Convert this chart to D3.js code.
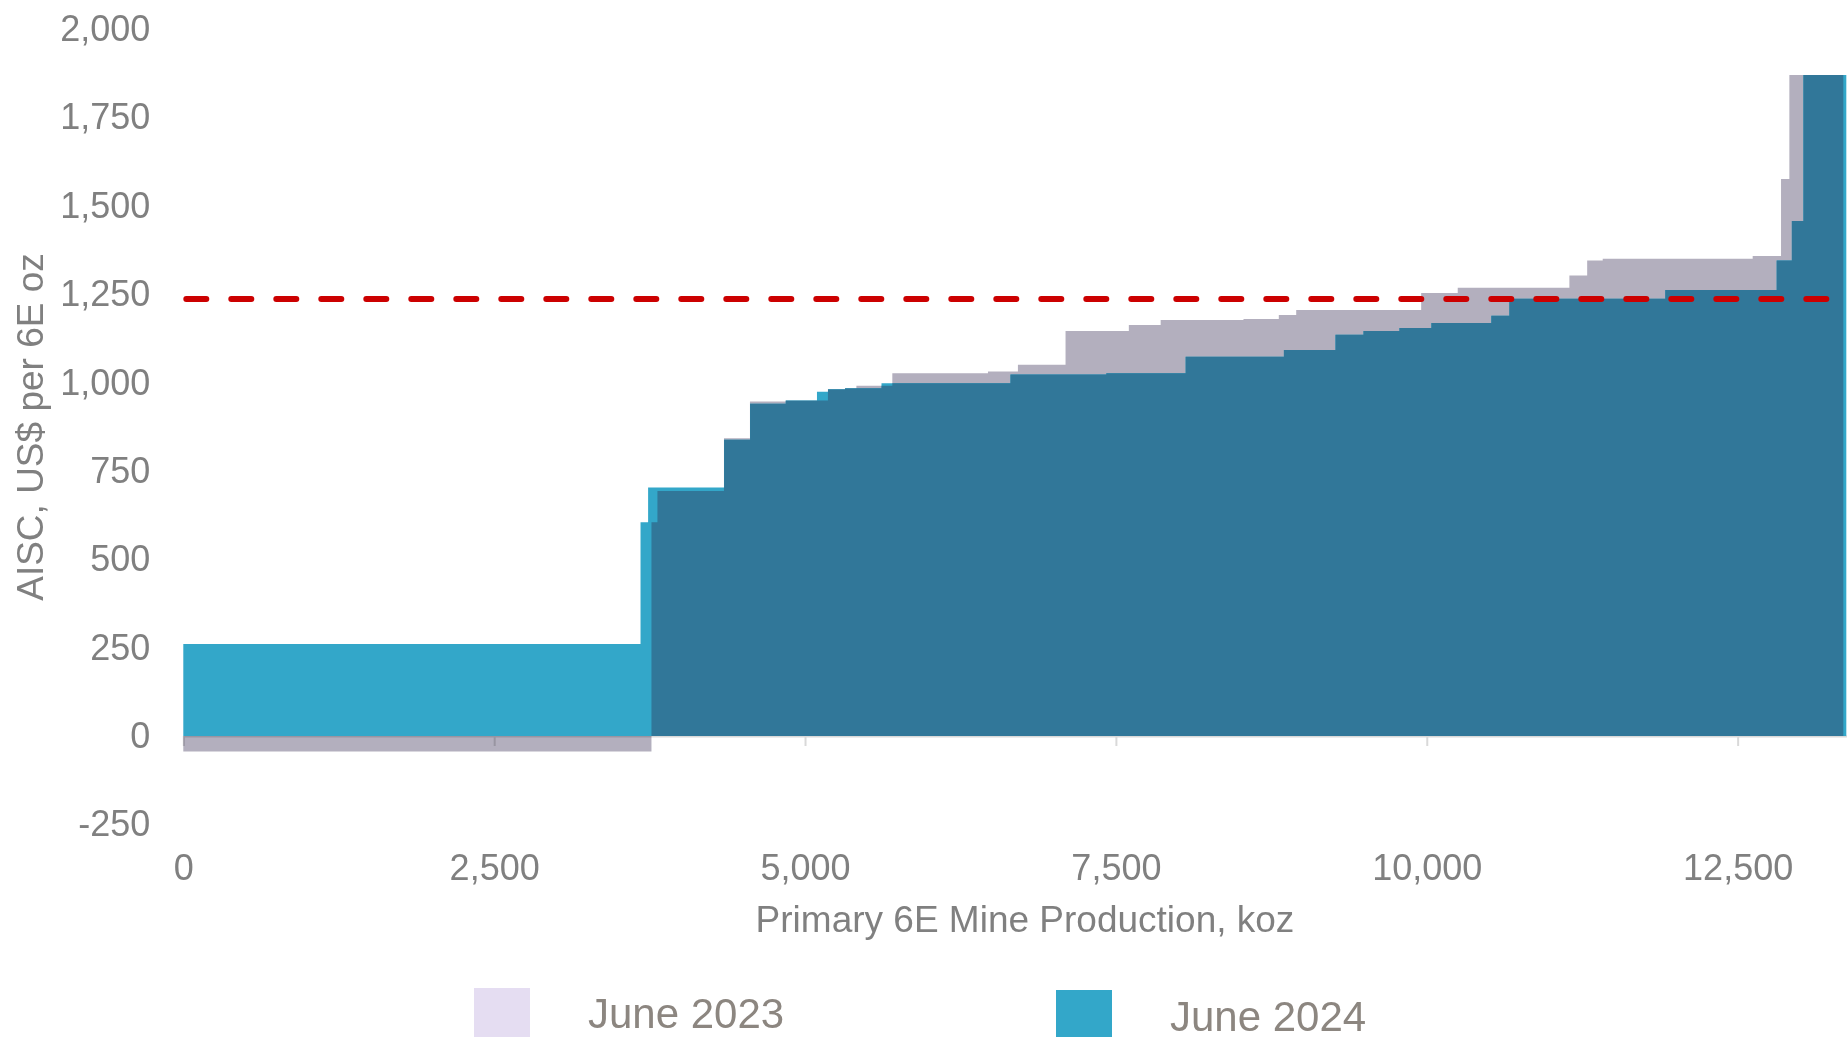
<!DOCTYPE html>
<html>
<head>
<meta charset="utf-8">
<script src="https://cdn.jsdelivr.net/npm/d3@7"></script>
<style>
  body { margin: 0; background: #fff; }
  text { font-family: "Liberation Sans", Arial, sans-serif; }
</style>
</head>
<body>
<div id="container"></div>
<script>
// cost curve: each step is one mine, width = production (koz), height = AISC
const series = ["June 2023", "June 2024"]

const prod2023 = [3765, 48, 535, 209, 287, 340, 137, 92, 289, 769, 241, 383, 509, 256, 666, 284, 140, 1005, 294, 898, 143, 125, 1206, 228, 67, 434]
const aisc2023 = [-44, 605, 693, 842, 946, 949, 981, 984, 991, 1026, 1031, 1050, 1146, 1163, 1177, 1180, 1191, 1205, 1253, 1268, 1303, 1345, 1350, 1358, 1576, 1870]

const prod2024 = [3677, 61, 611, 209, 287, 251, 89, 137, 293, 1037, 771, 638, 790, 415, 225, 289, 257, 482, 145, 1254, 896, 122, 93, 345]
const aisc2024 = [260, 605, 703, 838, 940, 949, 974, 981, 984, 998, 1023, 1026, 1073, 1092, 1135, 1146, 1154, 1168, 1189, 1237, 1262, 1345, 1457, 1870]

const basketPrice = 1236

const xTicks = [0, 2500, 5000, 7500, 10000, 12500]
const yTicks = [-250, 0, 250, 500, 750, 1000, 1250, 1500, 1750, 2000]

const colors = {
  y2023: '#b3afbe',
  y2024: '#33a7c9',
  both: '#317799',
  legend2023: '#e5ddf2'
}

const width = 1847
const height = 1037

const svg = d3.select('#container').append('svg')
  .attr('width', width)
  .attr('height', height)
  .style('background', '#fff')

const x = d3.scaleLinear()
  .domain([0, 13375])
  .range([183.3, 183.3 + 13375 * 0.124347])

const y = d3.scaleLinear()
  .domain([-250, 2000])
  .range([824.4, 29])

function steps (prod, aisc) {
  const ends = d3.cumsum(prod)
  const pts = aisc.map((v, i) => ({ x: i ? ends[i - 1] : 0, v: v }))
  pts.push({ x: ends[ends.length - 1], v: aisc[aisc.length - 1] })
  return pts
}

const area = d3.area()
  .curve(d3.curveStepAfter)
  .x(d => x(d.x))
  .y0(y(0))
  .y1(d => y(d.v))

const pts2023 = steps(prod2023, aisc2023)
const pts2024 = steps(prod2024, aisc2024)

// x axis line and ticks at zero, labels pushed down to the bottom
const xAxis = svg.append('g')
  .attr('transform', `translate(0,${y(0)})`)
  .call(d3.axisBottom(x)
    .tickValues(xTicks)
    .tickSize(10)
    .tickSizeOuter(0)
    .tickPadding(108)
    .tickFormat(d3.format(',')))
xAxis.select('.domain').attr('stroke', '#d9d9d9').attr('stroke-width', 2)
xAxis.selectAll('.tick line').attr('stroke', '#d9d9d9').attr('stroke-width', 2)
xAxis.selectAll('.tick text')
  .attr('fill', '#808080')
  .style('font-size', '36px')

const yAxis = svg.append('g')
  .attr('transform', `translate(${x(0)},0)`)
  .call(d3.axisLeft(y)
    .tickValues(yTicks)
    .tickSize(0)
    .tickPadding(33)
    .tickFormat(d => d3.format(',')(d).replace('\u2212', '-')))
yAxis.select('.domain').remove()
yAxis.selectAll('.tick text')
  .attr('fill', '#808080')
  .style('font-size', '36px')

svg.append('clipPath')
  .attr('id', 'clip2023')
  .append('path')
  .attr('d', area(pts2023))

svg.append('path')
  .attr('d', area(pts2023))
  .attr('fill', colors.y2023)
  .style('mix-blend-mode', 'multiply')

svg.append('path')
  .attr('d', area(pts2024))
  .attr('fill', colors.y2024)

// overlap of the two curves
svg.append('path')
  .attr('d', area(pts2024))
  .attr('clip-path', 'url(#clip2023)')
  .attr('fill', colors.both)

svg.append('line')
  .attr('x1', x(0) + 3)
  .attr('x2', width)
  .attr('y1', y(basketPrice))
  .attr('y2', y(basketPrice))
  .attr('stroke', '#cc0000')
  .attr('stroke-width', 6)
  .attr('stroke-dasharray', '20,25')
  .attr('stroke-linecap', 'round')

svg.append('text')
  .attr('transform', 'translate(43,427) rotate(-90)')
  .attr('text-anchor', 'middle')
  .attr('fill', '#808080')
  .style('font-size', '37px')
  .text('AISC, US$ per 6E oz')

svg.append('text')
  .attr('x', 1025)
  .attr('y', 932)
  .attr('text-anchor', 'middle')
  .attr('fill', '#808080')
  .style('font-size', '37px')
  .text('Primary 6E Mine Production, koz')

const legend = [
  { name: series[0], color: colors.legend2023, x: 474, y: 988, ty: 1028 },
  { name: series[1], color: colors.y2024, x: 1056, y: 990, ty: 1031 }
]

legend.forEach(d => {
  svg.append('rect')
    .attr('x', d.x)
    .attr('y', d.y)
    .attr('width', 56)
    .attr('height', 60)
    .attr('fill', d.color)
  svg.append('text')
    .attr('x', d.x + 114)
    .attr('y', d.ty)
    .attr('fill', '#8c8680')
    .style('font-size', '42px')
    .text(d.name)
})
</script>
</body>
</html>
